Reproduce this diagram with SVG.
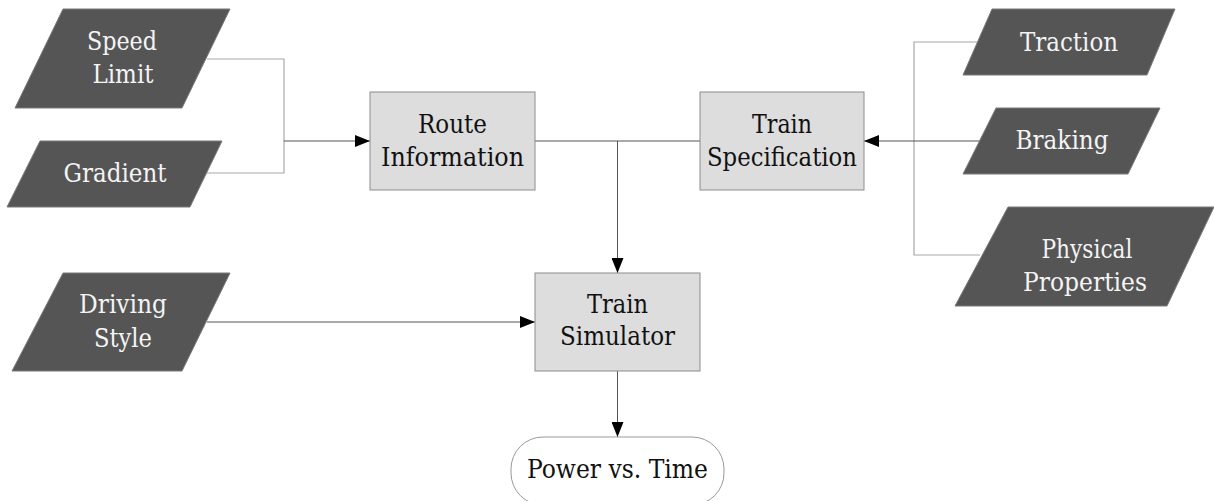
<svg xmlns="http://www.w3.org/2000/svg" width="1214" height="501" viewBox="0 0 1214 501">
  <defs>
    <style>
      .io { fill: #555555; stroke: #7a7a7a; stroke-width: 1; }
      .proc { fill: #dddddd; stroke: #8c8c8c; stroke-width: 1; }
      .term { fill: #ffffff; stroke: #999999; stroke-width: 1; }
      .lbl { font-family: "DejaVu Serif Condensed", "Liberation Serif", serif; font-size: 26px; text-anchor: middle; }
      .light { fill: #f4f4f4; }
      .dark { fill: #111111; }
      .wire { fill: none; stroke: #555555; stroke-width: 1; }
      .wire-soft { fill: none; stroke: #a8a8a8; stroke-width: 1.2; }
    </style>
    <marker id="arrow" markerWidth="15" markerHeight="12" refX="15" refY="6" orient="auto" markerUnits="userSpaceOnUse">
      <path d="M0,0 L15,6 L0,12 Z" fill="#000000"/>
    </marker>
  </defs>
  <rect width="1214" height="501" fill="#ffffff"/>

  <!-- connectors -->
  <g id="connectors">
    <polyline class="wire-soft" points="207,59 284,59 284,173 206,173"/>
    <line class="wire" x1="284" y1="141" x2="370" y2="141" marker-end="url(#arrow)"/>
    <line class="wire" x1="535" y1="141" x2="700" y2="141"/>
    <line class="wire" x1="617.5" y1="141" x2="617.5" y2="273" marker-end="url(#arrow)"/>
    <polyline class="wire-soft" points="977,42 914,42 914,255 980,255"/>
    <line class="wire" x1="980" y1="141" x2="864" y2="141" marker-end="url(#arrow)"/>
    <line class="wire" x1="207" y1="322" x2="535" y2="322" marker-end="url(#arrow)"/>
    <line class="wire" x1="617.5" y1="371" x2="617.5" y2="437" marker-end="url(#arrow)"/>
  </g>

  <!-- inputs -->
  <g id="speed-limit">
    <polygon class="io" points="63,9 230,9 182,108 15,108"/>
    <text class="lbl light" x="122" y="50" textLength="70" lengthAdjust="spacingAndGlyphs">Speed</text>
    <text class="lbl light" x="123" y="83" textLength="61" lengthAdjust="spacingAndGlyphs">Limit</text>
  </g>
  <g id="gradient">
    <polygon class="io" points="40,141 222,141 190,207 7,207"/>
    <text class="lbl light" x="115" y="182" textLength="103" lengthAdjust="spacingAndGlyphs">Gradient</text>
  </g>
  <g id="driving-style">
    <polygon class="io" points="63,273 230,273 182,371 12,371"/>
    <text class="lbl light" x="123" y="313" textLength="88" lengthAdjust="spacingAndGlyphs">Driving</text>
    <text class="lbl light" x="123" y="347" textLength="58" lengthAdjust="spacingAndGlyphs">Style</text>
  </g>
  <g id="traction">
    <polygon class="io" points="992,9 1175,9 1147,75 963,75"/>
    <text class="lbl light" x="1069" y="51" textLength="98" lengthAdjust="spacingAndGlyphs">Traction</text>
  </g>
  <g id="braking">
    <polygon class="io" points="996,108 1160,108 1128,174 963,174"/>
    <text class="lbl light" x="1062" y="149" textLength="93" lengthAdjust="spacingAndGlyphs">Braking</text>
  </g>
  <g id="physical-properties">
    <polygon class="io" points="1008,207 1214,207 1167,306 955,306"/>
    <text class="lbl light" x="1087" y="258" textLength="91" lengthAdjust="spacingAndGlyphs">Physical</text>
    <text class="lbl light" x="1085" y="291" textLength="124" lengthAdjust="spacingAndGlyphs">Properties</text>
  </g>

  <!-- processes -->
  <g id="route-information">
    <rect class="proc" x="370" y="92" width="165" height="98"/>
    <text class="lbl dark" x="452.5" y="133" textLength="69" lengthAdjust="spacingAndGlyphs">Route</text>
    <text class="lbl dark" x="452.5" y="166" textLength="143" lengthAdjust="spacingAndGlyphs">Information</text>
  </g>
  <g id="train-specification">
    <rect class="proc" x="700" y="92" width="164" height="98"/>
    <text class="lbl dark" x="782" y="133" textLength="60" lengthAdjust="spacingAndGlyphs">Train</text>
    <text class="lbl dark" x="782" y="166" textLength="150" lengthAdjust="spacingAndGlyphs">Specification</text>
  </g>
  <g id="train-simulator">
    <rect class="proc" x="535" y="273" width="165" height="98"/>
    <text class="lbl dark" x="617.5" y="313" textLength="61" lengthAdjust="spacingAndGlyphs">Train</text>
    <text class="lbl dark" x="617.5" y="345" textLength="115" lengthAdjust="spacingAndGlyphs">Simulator</text>
  </g>

  <!-- output -->
  <g id="power-vs-time">
    <rect class="term" x="511" y="437" width="213" height="68" rx="32" ry="32"/>
    <text class="lbl dark" x="617.5" y="478" textLength="181" lengthAdjust="spacingAndGlyphs">Power vs. Time</text>
  </g>
</svg>
